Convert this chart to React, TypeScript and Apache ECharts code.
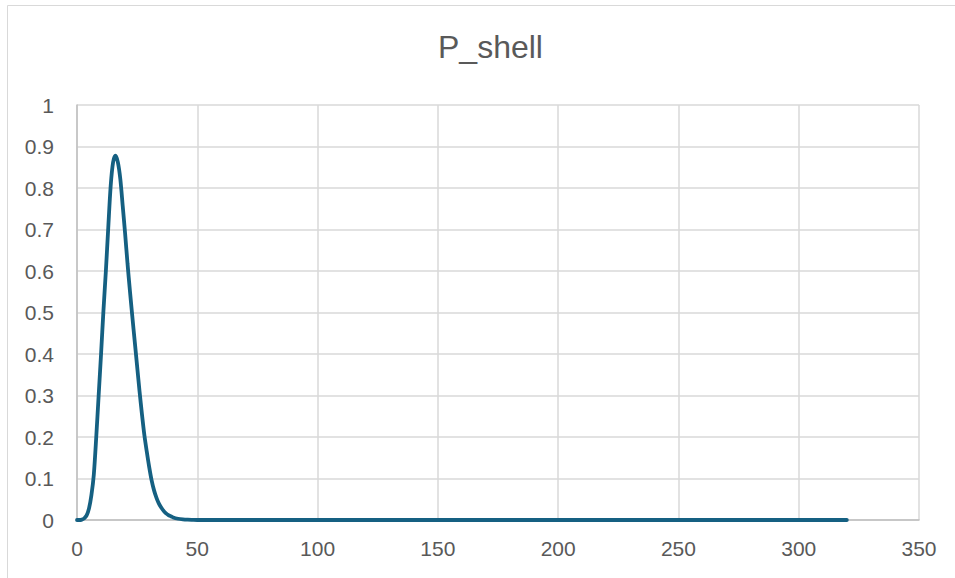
import React, { useEffect, useRef } from "react";
import * as echarts from "echarts";

const titleText = "P_shell";
const xs = [
  0, 1, 2, 3, 4, 5, 6, 7, 8, 9, 10, 11, 12, 13, 14, 15, 16, 17, 18, 19, 20,
  21, 22, 23, 24, 25, 26, 27, 28, 29, 30, 31, 32, 33, 34, 35, 36, 37, 38, 39,
  40, 42, 44, 46, 48, 50, 100, 150, 200, 250, 300, 320,
];
const pShell = [
  0, 0, 0.001, 0.004, 0.011, 0.028, 0.06, 0.11, 0.2, 0.3, 0.4, 0.505, 0.6,
  0.705, 0.805, 0.862, 0.878, 0.862, 0.822, 0.757, 0.69, 0.618, 0.552, 0.49,
  0.43, 0.37, 0.31, 0.255, 0.205, 0.165, 0.128, 0.096, 0.072, 0.054, 0.04,
  0.03, 0.022, 0.016, 0.012, 0.009, 0.006, 0.003, 0.0015, 0.0007, 0.0003, 0,
  0, 0, 0, 0, 0, 0,
];
const xMin = 0;
const xMax = 350;
const xStep = 50;
const yMin = 0;
const yMax = 1;
const yStep = 0.1;

export default function App() {
  const ref = useRef<HTMLDivElement>(null);
  useEffect(() => {
    if (!ref.current) return;
    const chart = echarts.init(ref.current, undefined, { renderer: "svg" });
    const font = "'Liberation Sans', Arial, sans-serif";
    chart.setOption({
      animation: false,
      backgroundColor: "#ffffff",
      title: {
        text: titleText,
        left: 433,
        top: 26,
        textStyle: {
          color: "#595959",
          fontSize: 32,
          fontWeight: "normal",
          fontFamily: font,
        },
      },
      graphic: [
        {
          type: "rect",
          shape: { x: 7.5, y: 5.5, width: 960, height: 600 },
          style: { fill: "none", stroke: "#d9d9d9", lineWidth: 1 },
          silent: true,
        },
      ],
      grid: { left: 77, right: 36, top: 105, bottom: 58 },
      xAxis: {
        type: "value",
        min: xMin,
        max: xMax,
        interval: xStep,
        axisLine: { show: true, lineStyle: { color: "#bfbfbf", width: 1.5 } },
        axisTick: { show: false },
        axisLabel: { color: "#595959", fontSize: 21, fontFamily: font, margin: 18 },
        splitLine: { show: true, lineStyle: { color: "#d9d9d9", width: 1.5 } },
      },
      yAxis: {
        type: "value",
        min: yMin,
        max: yMax,
        interval: yStep,
        axisLine: { show: true, lineStyle: { color: "#bfbfbf", width: 1.5 } },
        axisTick: { show: false },
        axisLabel: {
          color: "#595959",
          fontSize: 21,
          fontFamily: font,
          margin: 23,
          formatter: (v: number) => String(Math.round(v * 10) / 10),
        },
        splitLine: { show: true, lineStyle: { color: "#d9d9d9", width: 1.5 } },
      },
      series: [
        {
          type: "line",
          data: xs.map((x, i) => [x, pShell[i]]),
          showSymbol: false,
          smooth: 0.3,
          lineStyle: { color: "#156082", width: 3.8, cap: "round" },
          itemStyle: { color: "#156082" },
        },
      ],
    });
    return () => chart.dispose();
  }, []);
  return (
    <div
      ref={ref}
      style={{ position: "fixed", left: 0, top: 0, width: 955, height: 578 }}
    />
  );
}
